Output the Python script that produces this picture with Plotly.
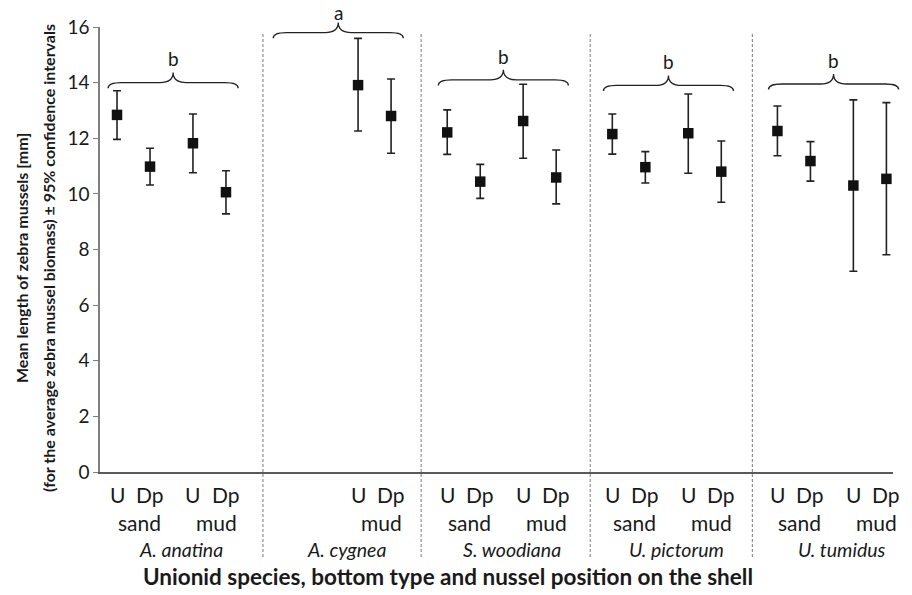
import plotly.graph_objects as go

# ---------------- data ----------------
species = ["A. anatina", "A. cygnea", "S. woodiana", "U. pictorum", "U. tumidus"]
positions = ["U", "Dp", "U", "Dp"]
bottoms = ["sand", "sand", "mud", "mud"]
bottom_names = ["sand", "mud"]

mean_anatina = [12.84, 10.98, 11.82, 10.06]
mean_cygnea = [None, None, 13.91, 12.80]
mean_woodiana = [12.21, 10.44, 12.62, 10.59]
mean_pictorum = [12.15, 10.96, 12.18, 10.80]
mean_tumidus = [12.26, 11.18, 10.30, 10.54]

upper_anatina = [13.71, 11.64, 12.87, 10.83]
upper_cygnea = [None, None, 15.59, 14.13]
upper_woodiana = [13.02, 11.06, 13.94, 11.58]
upper_pictorum = [12.87, 11.52, 13.59, 11.90]
upper_tumidus = [13.16, 11.88, 13.38, 13.28]

lower_anatina = [11.96, 10.32, 10.76, 9.28]
lower_cygnea = [None, None, 12.26, 11.46]
lower_woodiana = [11.42, 9.84, 11.28, 9.64]
lower_pictorum = [11.43, 10.39, 10.74, 9.70]
lower_tumidus = [11.37, 10.46, 7.22, 7.81]

group_letters = ["b", "a", "b", "b", "b"]
brace_levels = [14.0, 15.8, 14.1, 13.9, 13.95]

y_ticks = [0, 2, 4, 6, 8, 10, 12, 14, 16]
y_title_lines = ["Mean length of zebra mussels [mm]",
                 "(for the average zebra mussel biomass) ± 95% confidence intervals"]
x_title = "Unionid species, bottom type and nussel position on the shell"

means = [mean_anatina, mean_cygnea, mean_woodiana, mean_pictorum, mean_tumidus]
uppers = [upper_anatina, upper_cygnea, upper_woodiana, upper_pictorum, upper_tumidus]
lowers = [lower_anatina, lower_cygnea, lower_woodiana, lower_pictorum, lower_tumidus]

# ---------------- layout helpers ----------------
GROUP_PITCH = 5.0
SLOT_OFFSETS = [0.0, 1.0, 2.3, 3.3]
X_RANGE = [-0.515, 23.5]
Y_RANGE = [0, 16]
separators = [4.42, 9.21, 14.33, 19.24]

FONT = "Lato, 'Open Sans', Arial, sans-serif"
TXT = "#1a1a1a"

def px_x(xd):
    return (xd - X_RANGE[0]) / (X_RANGE[1] - X_RANGE[0])

def px_y(yd):
    return (yd - Y_RANGE[0]) / (Y_RANGE[1] - Y_RANGE[0])

xs, ys, ep, em = [], [], [], []
for g in range(len(species)):
    for s in range(4):
        m = means[g][s]
        if m is None:
            continue
        xs.append(g * GROUP_PITCH + SLOT_OFFSETS[s])
        ys.append(m)
        ep.append(uppers[g][s] - m)
        em.append(m - lowers[g][s])

fig = go.Figure()
fig.add_trace(go.Scatter(
    x=xs, y=ys, mode="markers",
    marker=dict(symbol="square", size=10.5, color="#111111"),
    error_y=dict(type="data", symmetric=False, array=ep, arrayminus=em,
                 color="#222222", thickness=1.6, width=4),
    showlegend=False, cliponaxis=False,
))

shapes = []
# dashed separators
for sx in separators:
    shapes.append(dict(type="line", xref="x", yref="paper", x0=sx, x1=sx,
                       y0=-85 / 445, y1=439 / 445,
                       line=dict(color="#7a7a7a", width=1, dash="3px,2px")))

annotations = []
# braces and letters
for g in range(len(species)):
    base = g * GROUP_PITCH
    xa, xb = base - 0.27, base + 3.67
    xm = (xa + xb) / 2
    d = 0.4
    yf = brace_levels[g]
    ye = yf - 0.2
    yp = yf + 0.36
    P = lambda x, y: f"{px_x(x):.5f},{px_y(y):.5f}"
    path = (f"M {P(xa, ye)} Q {P(xa, yf)} {P(xa + d, yf)} L {P(xm - d, yf)} "
            f"Q {P(xm, yf)} {P(xm, yp)} Q {P(xm, yf)} {P(xm + d, yf)} "
            f"L {P(xb - d, yf)} Q {P(xb, yf)} {P(xb, ye)}")
    shapes.append(dict(type="path", xref="paper", yref="paper", path=path,
                       line=dict(color="#222222", width=1.3)))
    annotations.append(dict(x=px_x(xm), y=px_y(yf + 0.85), xref="paper", yref="paper",
                            text=group_letters[g], showarrow=False,
                            yshift=-4 if group_letters[g] == "a" else 0,
                            font=dict(family=FONT, size=19, color=TXT),
                            xanchor="center", yanchor="middle"))

# category labels
for g in range(len(species)):
    base = g * GROUP_PITCH
    for s in range(4):
        if means[g][s] is None:
            continue
        annotations.append(dict(x=base + SLOT_OFFSETS[s], y=0, xref="x", yref="y",
                                text=positions[s], showarrow=False, yshift=-22,
                                font=dict(family=FONT, size=21, color=TXT),
                                xanchor="center", yanchor="middle"))
    for b, off in zip(bottom_names, [0.68, 3.0]):
        if b == "sand" and means[g][0] is None:
            continue
        annotations.append(dict(x=base + off, y=0, xref="x", yref="y",
                                text=b, showarrow=False, yshift=-50,
                                font=dict(family=FONT, size=21, color=TXT),
                                xanchor="center", yanchor="middle"))
    annotations.append(dict(x=base + 1.95, y=0, xref="x", yref="y",
                            text=f"<i>{species[g]}</i>", showarrow=False, yshift=-77,
                            font=dict(family=FONT, size=19.5, color=TXT),
                            xanchor="center", yanchor="middle"))

annotations.append(dict(x=(448 - 100) / 793, y=0, xref="paper", yref="paper",
                        text=f"<b>{x_title}</b>",
                        showarrow=False, yshift=-104,
                        font=dict(family=FONT, size=22.5, color=TXT),
                        xanchor="center", yanchor="middle"))

# y-axis title (two lines)
for line, xs_px in zip(y_title_lines, [-79, -52]):
    annotations.append(dict(x=0, y=(472 - 258) / 445, xref="paper", yref="paper",
                            text=f"<b>{line}</b>", textangle=-90, showarrow=False,
                            xshift=xs_px, font=dict(family=FONT, size=16, color=TXT),
                            xanchor="center", yanchor="middle"))

fig.update_layout(
    width=912, height=595,
    margin=dict(l=100, r=19, t=27, b=123),
    paper_bgcolor="white", plot_bgcolor="white",
    font=dict(family=FONT, color=TXT),
    shapes=shapes, annotations=annotations,
    xaxis=dict(range=X_RANGE, showgrid=False, zeroline=False, showticklabels=False,
               ticks="", showline=True, linecolor="#5a5a5a", linewidth=1.5),
    yaxis=dict(range=Y_RANGE, tickvals=y_ticks, showgrid=False, zeroline=False,
               ticks="outside", ticklen=5, tickcolor="#7f7f7f", tickwidth=1.3,
               showline=True, linecolor="#7f7f7f", linewidth=1.5,
               tickfont=dict(family=FONT, size=19, color=TXT)),
)

fig.write_html("out.html")
